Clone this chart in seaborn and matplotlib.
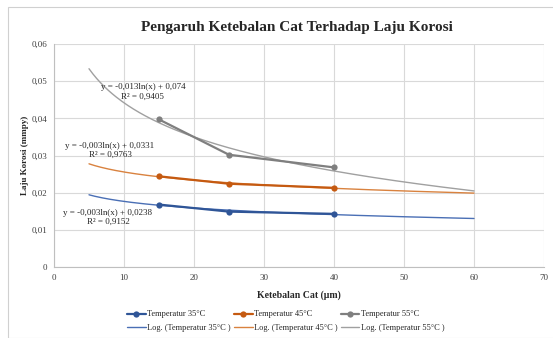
import numpy as np
import pandas as pd
import matplotlib
matplotlib.use("Agg")
import matplotlib.pyplot as plt
import seaborn as sns
from matplotlib.lines import Line2D
from matplotlib.patches import Rectangle

# data
tebal = [15, 25, 40]
laju_35 = [0.0168, 0.0149, 0.0143]
laju_45 = [0.0244, 0.0224, 0.0213]
laju_55 = [0.0397, 0.0302, 0.0268]
seri = ["Temperatur 35°C", "Temperatur 45°C", "Temperatur 55°C"]
warna = ["#2F5597", "#C55A11", "#7F7F7F"]
warna_log = ["#4A6FB5", "#D9823F", "#A0A0A0"]
persamaan = ["y = -0,003ln(x) + 0,0238\nR² = 0,9152",
             "y = -0,003ln(x) + 0,0331\nR² = 0,9763",
             "y = -0,013ln(x) + 0,074\nR² = 0,9405"]
pos_label = [(7.7, 0.0133), (8.0, 0.0314), (12.7, 0.0471)]
x_tren = [5, 60]

df = pd.DataFrame({
    "tebal": tebal * 3,
    "laju": laju_35 + laju_45 + laju_55,
    "seri": [s for s in seri for _ in tebal],
})

sns.set_style("white")
plt.rcParams["font.family"] = ["Liberation Serif", "DejaVu Serif"]

fig = plt.figure(figsize=(5.53, 3.38), dpi=100)
ax = fig.add_axes([54 / 553, 1 - 267 / 338, 490 / 553, 223 / 338])
fig.patches.append(Rectangle((8 / 553, 0), 1, 1 - 7 / 338, transform=fig.transFigure,
                             fill=False, edgecolor="#D0D0D0", linewidth=0.8))

xs = np.linspace(x_tren[0], x_tren[1], 200)
for i, s in enumerate(seri):
    sub = df[df.seri == s]
    a, b = np.polyfit(np.log(sub.tebal), sub.laju, 1)
    ax.plot(xs, a * np.log(xs) + b, color=warna_log[i], lw=1.0, zorder=2)

sns.lineplot(data=df, x="tebal", y="laju", hue="seri", palette=warna, marker="o",
             markersize=4.5, markeredgewidth=0, linewidth=1.6, legend=False, ax=ax, zorder=3)

for i in range(3):
    ax.text(pos_label[i][0], pos_label[i][1], persamaan[i], ha="center", va="center",
            fontsize=6.5, linespacing=1.2)

ax.set_xlim(0, 70)
ax.set_ylim(0, 0.06)
ax.set_xticks(range(0, 71, 10))
ax.set_yticks(np.arange(0, 0.061, 0.01))
ax.set_yticklabels(["0", "0,01", "0,02", "0,03", "0,04", "0,05", "0,06"])
ax.tick_params(labelsize=6.5, length=0, pad=5, colors="#404040")
ax.grid(True, color="#D9D9D9", linewidth=0.8)
for sp in ["top", "right"]:
    ax.spines[sp].set_visible(False)
for sp in ["left", "bottom"]:
    ax.spines[sp].set_color("#BFBFBF")
    ax.spines[sp].set_linewidth(0.8)

ax.set_xlabel("Ketebalan Cat (µm)", fontsize=7, fontweight="bold", labelpad=6)
ax.set_ylabel("Laju Korosi (mmpy)", fontsize=6.5, fontweight="bold", labelpad=2)
fig.text(297 / 553, 1 - 28 / 338, "Pengaruh Ketebalan Cat Terhadap Laju Korosi",
         ha="center", va="center", fontsize=11, fontweight="bold")

handles, labels = [], []
for i, s in enumerate(seri):
    handles.append(Line2D([], [], color=warna[i], marker="o", markersize=4.5, lw=1.6,
                          markeredgewidth=0))
    labels.append(s)
    handles.append(Line2D([], [], color=warna_log[i], lw=1.0))
    labels.append("Log. (" + s + " )")
fig.legend(handles, labels, ncol=3, loc="center", bbox_to_anchor=(286 / 553, 1 - 321 / 338),
           frameon=False, fontsize=6, handlelength=2.2, columnspacing=0.4,
           handletextpad=0.2, labelspacing=0.6)

fig.savefig("out.png", dpi=100)
